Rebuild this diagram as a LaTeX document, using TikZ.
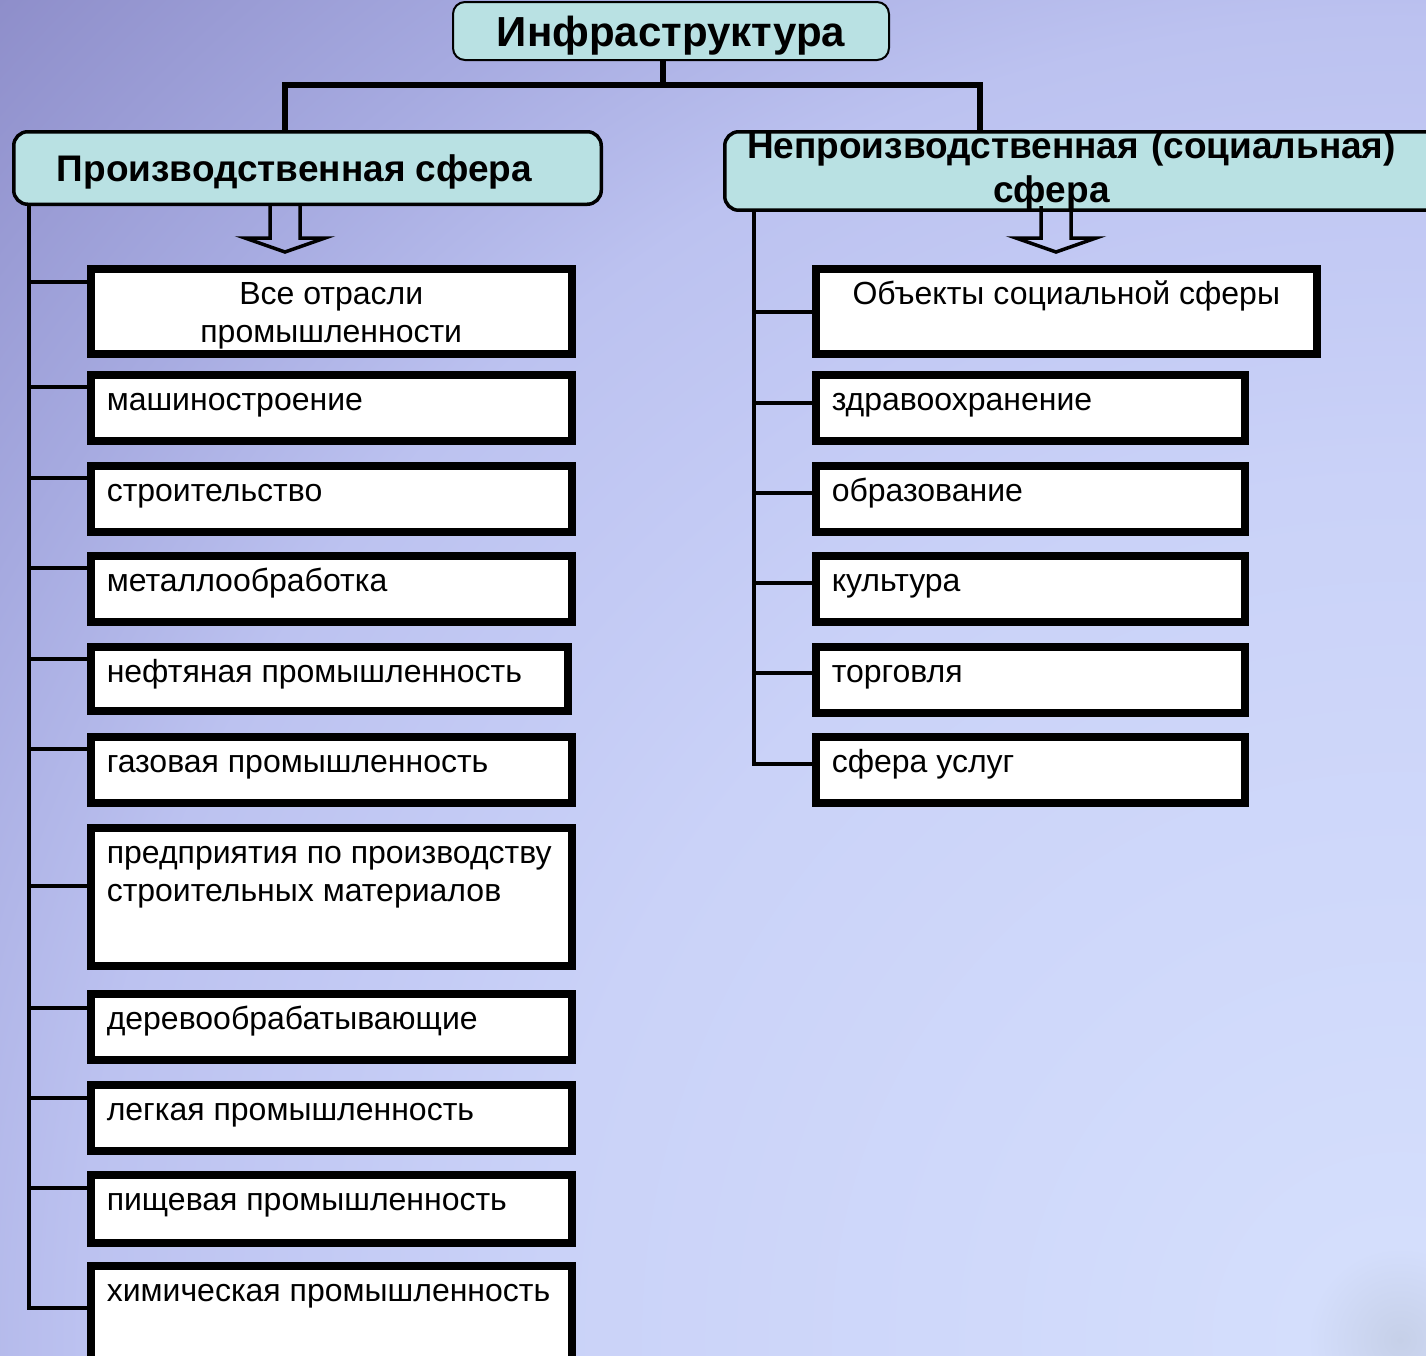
\documentclass[tikz,border=0pt]{standalone}
\usepackage{fontspec}
\setmainfont{Liberation Sans}
\usetikzlibrary{positioning}
\definecolor{bgtop}{RGB}{142,142,202}
\definecolor{bgmidd}{RGB}{166,170,224}
\definecolor{bgmid}{RGB}{188,194,240}
\definecolor{bglight}{RGB}{202,210,248}
\definecolor{bgbot}{RGB}{212,222,252}
\definecolor{bgcorner}{RGB}{198,208,232}
\definecolor{hdrfill}{RGB}{185,225,227}
\pgfdeclareradialshading{bgglow}{\pgfpoint{0bp}{0bp}}{color(0bp)=(bgcorner); color(1.2bp)=(bgbot); color(11bp)=(bglight); color(17bp)=(bgmid); color(20.5bp)=(bgmidd); color(25bp)=(bgtop); color(50bp)=(bgtop)}
\newcommand{\cellbox}[3]{\parbox[t][#2][t]{#1}{\raggedright\strut #3}}

\begin{document}
\begin{tikzpicture}[x=1pt, y=-1pt,
        topbox/.style={draw, line width=2pt, rounded corners=12pt, fill=hdrfill, minimum width=436pt, minimum height=58pt, inner sep=0pt, font=\fontsize{42}{46}\selectfont\bfseries},
        header/.style={draw, line width=3.5pt, rounded corners=14pt, fill=hdrfill, anchor=north west, inner sep=0pt, align=center, font=\fontsize{37}{44}\selectfont\bfseries},
        cell/.style={draw, line width=7.5pt, fill=white, anchor=north west, inner xsep=16pt, inner ysep=9pt, font=\fontsize{32}{38}\selectfont},
        trunk/.style={line width=6pt},
        spine/.style={line width=4.5pt},
        branch/.style={line width=4pt},
        openarrow/.style={line width=3.5pt, line join=miter},
]
        \clip (0,0) rectangle (1426,1355);
        \shade[shading=bgglow] (1400,1340) circle (1940pt);

        % top and the two spheres
        \node[topbox, text depth=0pt] (infra) at (671,31) {Инфраструктура};
        \node[header, minimum width=587.5pt, minimum height=72.5pt, text depth=0pt] (prod) at (12,130) {\hspace*{-26pt}Производственная сфера};
        \node[header, minimum width=713.5pt, minimum height=72.5pt, text width=700pt] (social) at (723,130) {\hspace*{-20pt}Непроизводственная (социальная)\\ \hspace*{-60pt}сфера};

        % left column
        \node[cell] (otrasli) at (87,265) {\cellbox{449pt}{67pt}{\centering Все отрасли\\ промышленности}};
        \node[cell] (mash) at (87,371) {\cellbox{449pt}{48pt}{машиностроение}};
        \node[cell] (stroy) at (87,462) {\cellbox{449pt}{48pt}{строительство}};
        \node[cell] (metal) at (87,552) {\cellbox{449pt}{48pt}{металлообработка}};
        \node[cell] (neft) at (87,643) {\cellbox{445pt}{46pt}{нефтяная промышленность}};
        \node[cell] (gaz) at (87,733) {\cellbox{449pt}{48pt}{газовая промышленность}};
        \node[cell] (predpr) at (87,824) {\cellbox{449pt}{120pt}{предприятия по производству\\ строительных материалов}};
        \node[cell] (derevo) at (87,990) {\cellbox{449pt}{48pt}{деревообрабатывающие}};
        \node[cell] (legk) at (87,1081) {\cellbox{449pt}{48pt}{легкая промышленность}};
        \node[cell] (pishch) at (87,1171) {\cellbox{449pt}{50pt}{пищевая промышленность}};
        \node[cell] (khim) at (87,1262) {\cellbox{449pt}{84pt}{химическая промышленность}};

        % right column
        \node[cell] (objekty) at (812,265) {\cellbox{469pt}{67pt}{\centering Объекты социальной сферы}};
        \node[cell] (zdrav) at (812,371) {\cellbox{397pt}{48pt}{здравоохранение}};
        \node[cell] (obraz) at (812,462) {\cellbox{397pt}{48pt}{образование}};
        \node[cell] (kult) at (812,552) {\cellbox{397pt}{48pt}{культура}};
        \node[cell] (torg) at (812,643) {\cellbox{397pt}{48pt}{торговля}};
        \node[cell] (uslugi) at (812,733) {\cellbox{397pt}{48pt}{сфера услуг}};

        % trunk
        \coordinate (tstem) at (663,0);
        \coordinate (ljoin) at (285,85);
        \coordinate (rjoin) at (980,85);
        \draw[trunk] (tstem |- infra.south) -- (tstem |- ljoin);
        \draw[trunk] (ljoin |- prod.north) -- (ljoin) -- (rjoin) -- (rjoin |- social.north);

        % spines
        \coordinate (lspine) at (29,0);
        \coordinate (rspine) at (754,0);
        \coordinate (lend) at (0,1308);
        \coordinate (rend) at (0,764);
        \draw[spine] (lspine |- prod.south) -- (lspine |- lend) -- (khim.west |- lend);
        \draw[spine] (rspine |- social.south) -- (rspine |- rend) -- (uslugi.west |- rend);
        \foreach \nm/\yy in {otrasli/282, mash/387, stroy/478, metal/568, neft/659, gaz/749, predpr/886, derevo/1008, legk/1098, pishch/1188} {
                \coordinate (hy) at (0,\yy);
                \draw[branch] (lspine |- hy) -- (\nm.west |- hy);
        }
        \foreach \nm/\yy in {objekty/312, zdrav/403, obraz/493, kult/583, torg/673} {
                \coordinate (hy) at (0,\yy);
                \draw[branch] (rspine |- hy) -- (\nm.west |- hy);
        }

        % hollow arrows under the spheres
        \coordinate (larrow) at (285,206);
        \coordinate (rarrow) at (1056,206);
        \foreach \a in {larrow, rarrow}
                \draw[openarrow] ([xshift=-15pt]\a) -- ++(0,32) -- ++(-25,0) -- ++(40,14) -- ++(40,-14) -- ++(-25,0) -- ++(0,-32);
\end{tikzpicture}
\end{document}
